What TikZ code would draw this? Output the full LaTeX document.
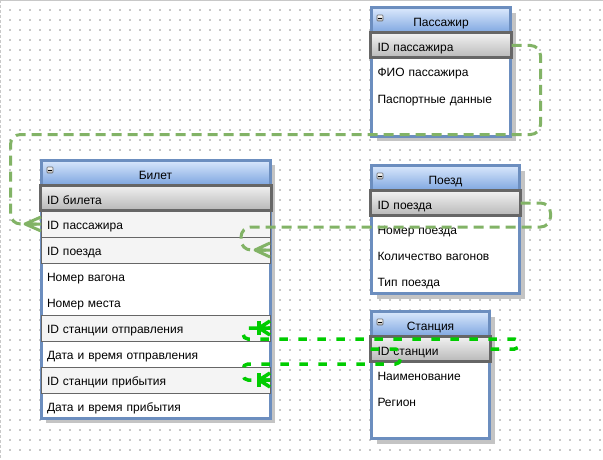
\documentclass[tikz,border=0pt]{standalone}
\usepackage{fontspec}
\setmainfont{Liberation Sans}
\usetikzlibrary{shadows}
\definecolor{tblblue}{HTML}{6C8EBF}
\definecolor{hdtop}{HTML}{DAE8FC}
\definecolor{hdbot}{HTML}{7EA6E0}
\definecolor{pkline}{HTML}{666666}
\definecolor{pktop}{HTML}{F2F2F2}
\definecolor{pkbot}{HTML}{B8B8B8}
\definecolor{fkfill}{HTML}{F4F4F4}
\definecolor{shadowgray}{HTML}{C4C4C4}
\definecolor{relgreen}{HTML}{82B366}
\definecolor{stgreen}{HTML}{00CC00}
\definecolor{griddot}{HTML}{C8C8C8}
\definecolor{edgegray}{HTML}{C8C8C8}
\tikzset{
  tablebox/.style={draw=tblblue, line width=3pt, fill=white, anchor=north west, inner sep=0pt, outer sep=0pt,
    general shadow={fill=shadowgray, shadow xshift=5pt, shadow yshift=-5pt}},
  headbox/.style={draw=tblblue, line width=3pt, top color=hdtop, bottom color=hdbot, anchor=north west,
    inner sep=0pt, outer sep=0pt, minimum height=25pt, text height=15pt, text depth=2pt},
  iconbox/.style={draw=black!60, line width=0.6pt, top color=white, bottom color=black!30, anchor=north west,
    minimum size=6pt, inner sep=0pt, outer sep=0pt, rounded corners=0.8pt},
  pkrow/.style={draw=pkline, line width=3pt, top color=pktop, bottom color=pkbot, anchor=north west,
    outer sep=0pt, inner xsep=7pt, inner ysep=0pt, minimum height=25pt, text height=15pt, text depth=2pt,
    text width=#1, align=left},
  fkrow/.style={draw=pkline, line width=0.8pt, fill=fkfill, anchor=north west, outer sep=0pt, inner xsep=6pt,
    inner ysep=0pt, minimum height=26pt, text height=12pt, text depth=2pt, text width=#1, align=left},
  plainrow/.style={anchor=north west, outer sep=0pt, inner xsep=6pt, inner ysep=0pt, minimum height=26pt,
    text height=12pt, text depth=2pt, text width=#1, align=left},
  smallrow/.style={plainrow=#1, text height=11pt, text depth=3pt},
  relline/.style={draw=relgreen, line width=3pt, dash pattern=on 10pt off 6pt, rounded corners=10pt},
  stline/.style={draw=stgreen, line width=3.5pt, dash pattern=on 8.5pt off 10.5pt, rounded corners=5pt},
  relfoot/.style={draw=relgreen, line width=3pt, solid, line join=round},
  stfoot/.style={draw=stgreen, line width=3.5pt, solid, line join=round},
}
\begin{document}
\begin{tikzpicture}[x=1pt, y=-1pt, font=\fontsize{12pt}{14pt}\selectfont]
\useasboundingbox (0,0) rectangle (603,460);
% background grid
\foreach \gx in {10,20,...,600}{
  \foreach \gy in {10,20,...,450}{
    \fill[griddot] (\gx-0.6,\gy-0.6) rectangle ++(1.2,1.2);
  }
}
\draw[edgegray, line width=1.3pt] (0,0.65) -- (603,0.65);
\draw[edgegray, line width=1.2pt, dash pattern=on 3pt off 2pt] (0.6,0) -- (0.6,460);

% ---------- Пассажир ----------
\node[tablebox, minimum width=139pt, minimum height=128pt] (pass) at (371.5,8) {};
\node[headbox, minimum width=139pt] (pass-h) at (371.5,8) {Пассажир};
\node[iconbox] (pass-i) at (377,15) {\rule{3.4pt}{0.7pt}};
\node[pkrow=127pt] (p-id) at (370.5,33) {ID пассажира};
\node[smallrow=127pt] (p-fio) at (371.5,60) {ФИО пассажира};
\node[smallrow=127pt] (p-doc) at (371.5,86) {Паспортные данные};

% ---------- Поезд ----------
\node[tablebox, minimum width=148pt, minimum height=128pt] (train) at (371.5,165.5) {};
\node[headbox, minimum width=148pt] (train-h) at (371.5,165.5) {Поезд};
\node[iconbox] (train-i) at (377,173) {\rule{3.4pt}{0.7pt}};
\node[pkrow=136pt] (t-id) at (370.5,190.5) {ID поезда};
\node[smallrow=136pt] (t-num) at (371.5,217) {Номер поезда};
\node[smallrow=136pt] (t-cars) at (371.5,243) {Количество вагонов};
\node[smallrow=136pt] (t-type) at (371.5,269) {Тип поезда};

% ---------- Станция ----------
\node[tablebox, minimum width=118pt, minimum height=127pt] (station) at (371.5,311.5) {};
\node[headbox, minimum width=118pt] (station-h) at (371.5,311.5) {Станция};
\node[iconbox] (station-i) at (377,319) {\rule{3.4pt}{0.7pt}};
\node[pkrow=106pt] (s-id) at (370.5,336.5) {ID станции};
\node[smallrow=106pt] (s-name) at (371.5,363) {Наименование};
\node[smallrow=106pt] (s-reg) at (371.5,389) {Регион};

% ---------- Билет ----------
\node[tablebox, minimum width=229pt, minimum height=258pt] (ticket) at (41,160) {};
\node[headbox, minimum width=229pt] (ticket-h) at (41,160) {Билет};
\node[iconbox] (ticket-i) at (47,167) {\rule{3.4pt}{0.7pt}};
\node[pkrow=217pt] (b-id) at (40,185) {ID билета};
\node[fkrow=217pt] (b-pas) at (41,211) {ID пассажира};
\node[fkrow=217pt] (b-train) at (41,237) {ID поезда};
\node[plainrow=217pt] (b-wagon) at (41,263) {Номер вагона};
\node[plainrow=217pt] (b-seat) at (41,289) {Номер места};
\node[fkrow=217pt] (b-dep) at (41,315) {ID станции отправления};
\node[plainrow=217pt] (b-deptime) at (41,341) {Дата и время отправления};
\node[fkrow=217pt] (b-arr) at (41,367) {ID станции прибытия};
\node[plainrow=217pt] (b-arrtime) at (41,393) {Дата и время прибытия};

% ---------- connectors ----------
\coordinate (w1) at (10.5,134.5);
\coordinate (w2) at (241,227);
\coordinate (w3) at (243,339);
\coordinate (w4) at (243,364);

\draw[relline] (p-id.east) -- ++(29,0) |- (w1) |- (b-pas.west);
\draw[relfoot] (b-pas.west) -- ++(-16,0) -- ++(16,-7) ++(-16,7) -- ++(16,7);

\draw[relline] (t-id.east) -- ++(30,0) |- (w2) |- (b-train.east);
\draw[relfoot] (b-train.east) -- ++(-15,0) -- ++(15,-7) ++(-15,7) -- ++(15,7);

\draw[stline] (s-id.east) -- ++(29,0) |- (w3) |- (b-dep.east);
\draw[stfoot] (b-dep.east) -- ++(-11,0) -- ++(11,-7) ++(-11,7) -- ++(11,7);
\draw[stfoot] (b-dep.east) ++(-11,-7) -- ++(0,14);

\draw[stline] (s-id.west) -- ++(30,0) |- (w4) |- (b-arr.east);
\draw[stfoot] (b-arr.east) -- ++(-11,0) -- ++(11,-7) ++(-11,7) -- ++(11,7);
\draw[stfoot] (b-arr.east) ++(-11,-7) -- ++(0,14);
\end{tikzpicture}
\end{document}
